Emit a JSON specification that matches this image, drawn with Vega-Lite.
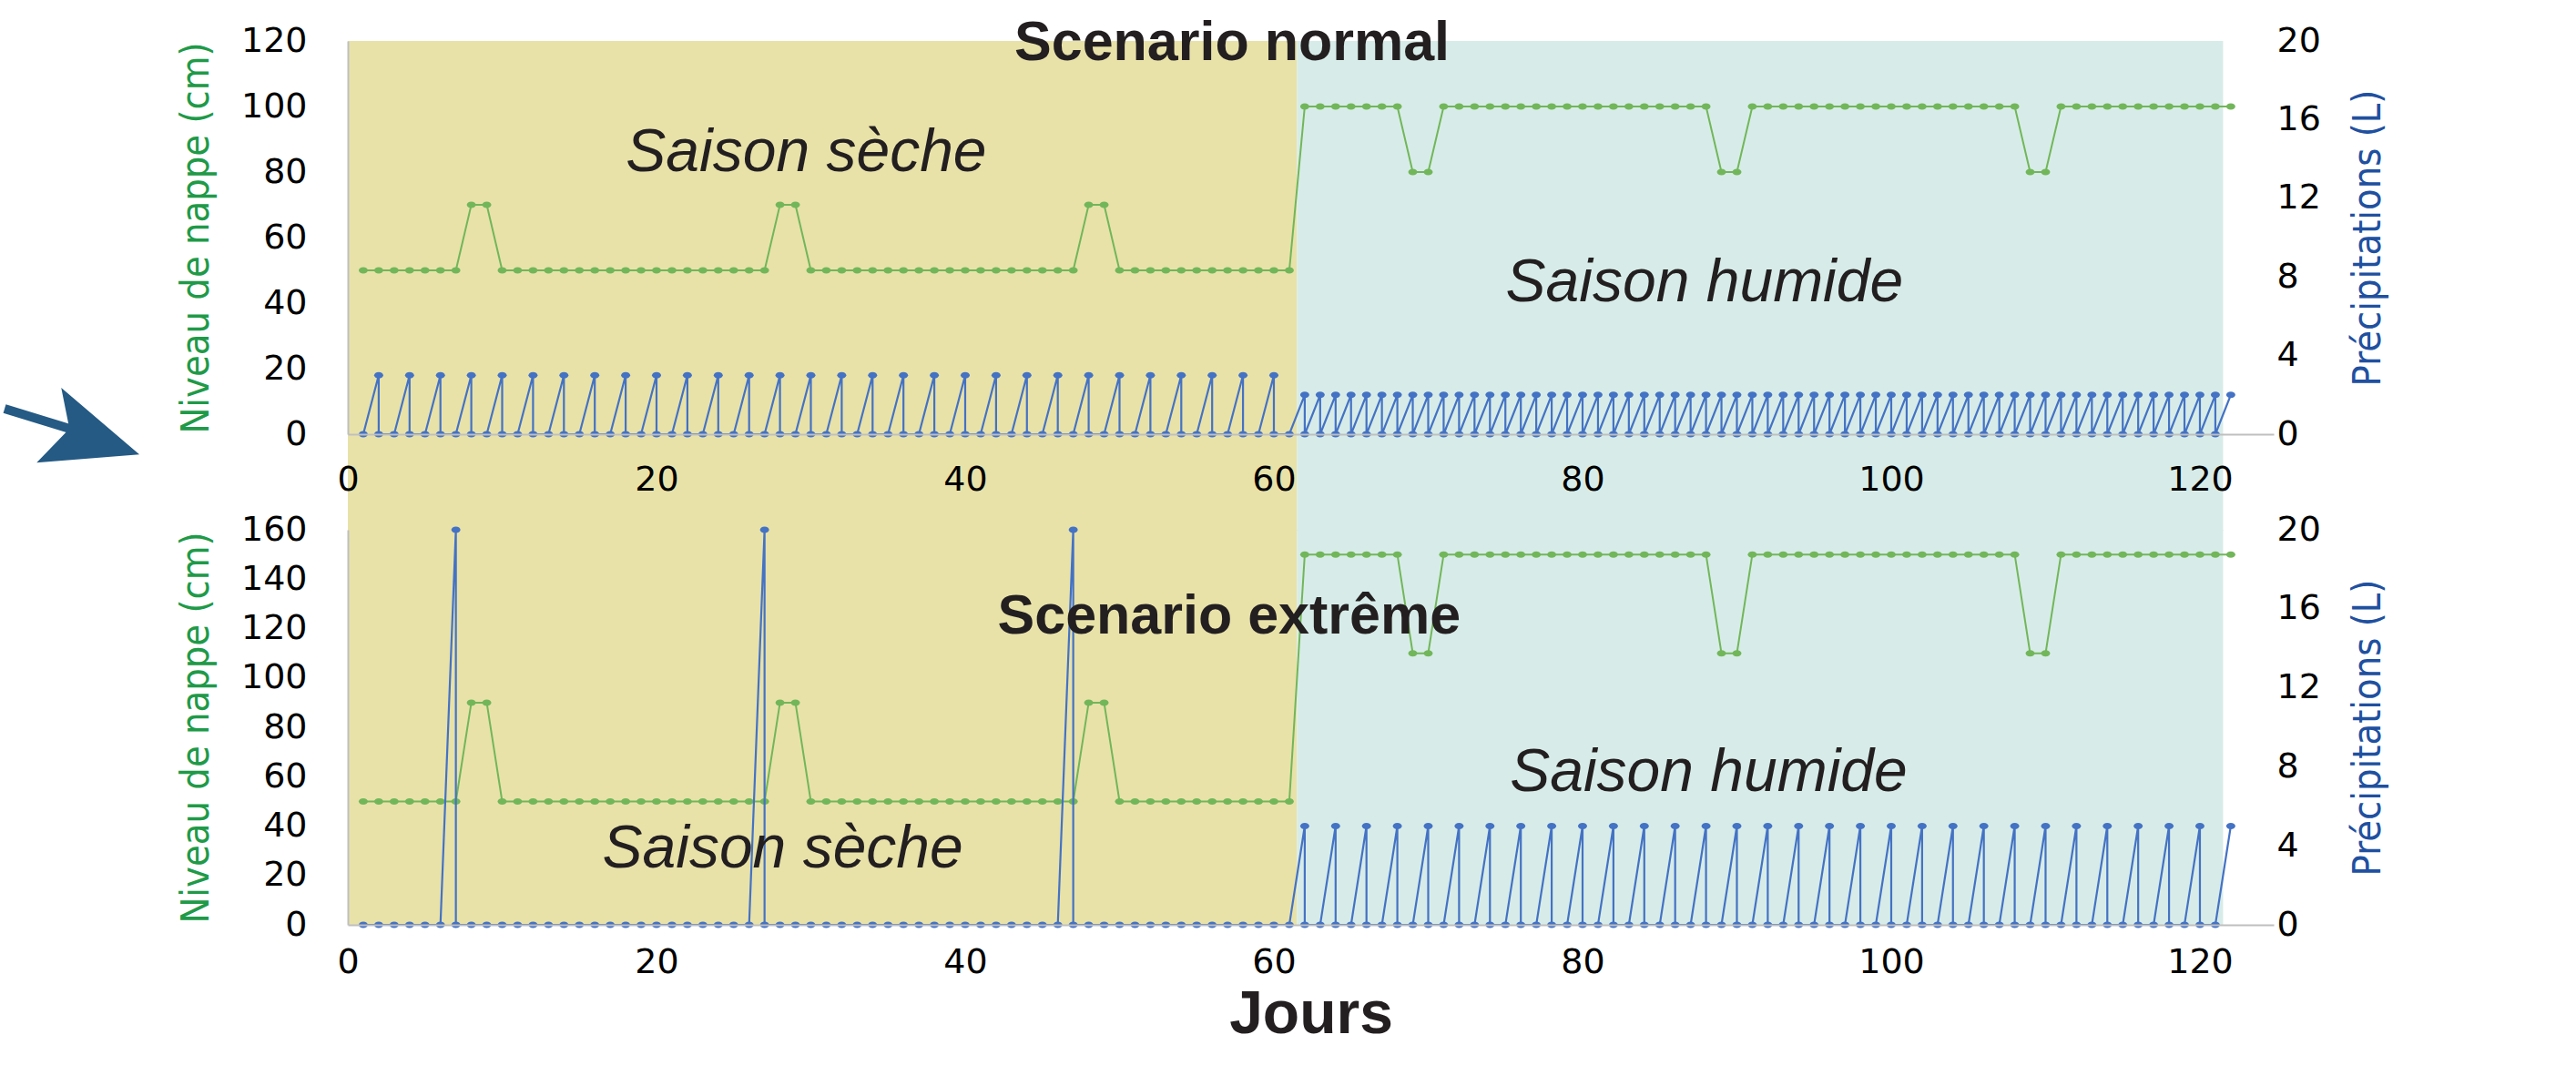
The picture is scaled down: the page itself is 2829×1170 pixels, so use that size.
{
"$schema": "https://vega.github.io/schema/vega-lite/v6.json",
"background": "white",
"padding": {"left": 0, "top": 16, "right": 12, "bottom": 0},
"bounds": "flush",
"spacing": 105,
"config": {
  "view": {"stroke": null},
  "font": "Liberation Sans",
  "axis": {"grid": false, "ticks": false, "labelFont": "DejaVu Sans", "labelFontSize": 38, "labelColor": "#000000", "domainColor": "#bfbfbf", "domainWidth": 2, "labelFlush": false, "labelOverlap": false, "titleFontWeight": "normal"}
},
"datasets": {
  "bgTop": [{"d":0,"d2":61.5,"v":-29.6,"v2":120,"s":"sèche"},{"d":61.5,"d2":121.5,"v":-29.6,"v2":120,"s":"humide"}],
  "bgBot": [{"d":0,"d2":61.5,"v":0,"v2":160,"s":"sèche"},{"d":61.5,"d2":121.5,"v":0,"v2":160,"s":"humide"}],
  "arrow": [{"d":-22.24,"v":7.78,"d2":-17.82,"v2":1.39}],
  "arrowHead": [{"d":-16.87,"v":1.67}],
  "labTop": [{"t":"Scenario normal","d":57.29,"v":114.17,"k":"titre"},{"t":"Saison sèche","d":29.7,"v":80.36,"k":"saison"},{"t":"Saison humide","d":87.9,"v":40.56,"k":"saison"}],
  "labBot": [{"t":"Scenario extrême","d":57.1,"v":117.97,"k":"titre"},{"t":"Saison sèche","d":28.18,"v":23.34,"k":"saison"},{"t":"Saison humide","d":88.17,"v":54.08,"k":"saison"}],
  "nN": [{"d":1,"v":50},{"d":2,"v":50},{"d":3,"v":50},{"d":4,"v":50},{"d":5,"v":50},{"d":6,"v":50},{"d":7,"v":50},{"d":8,"v":70},{"d":9,"v":70},{"d":10,"v":50},{"d":11,"v":50},{"d":12,"v":50},{"d":13,"v":50},{"d":14,"v":50},{"d":15,"v":50},{"d":16,"v":50},{"d":17,"v":50},{"d":18,"v":50},{"d":19,"v":50},{"d":20,"v":50},{"d":21,"v":50},{"d":22,"v":50},{"d":23,"v":50},{"d":24,"v":50},{"d":25,"v":50},{"d":26,"v":50},{"d":27,"v":50},{"d":28,"v":70},{"d":29,"v":70},{"d":30,"v":50},{"d":31,"v":50},{"d":32,"v":50},{"d":33,"v":50},{"d":34,"v":50},{"d":35,"v":50},{"d":36,"v":50},{"d":37,"v":50},{"d":38,"v":50},{"d":39,"v":50},{"d":40,"v":50},{"d":41,"v":50},{"d":42,"v":50},{"d":43,"v":50},{"d":44,"v":50},{"d":45,"v":50},{"d":46,"v":50},{"d":47,"v":50},{"d":48,"v":70},{"d":49,"v":70},{"d":50,"v":50},{"d":51,"v":50},{"d":52,"v":50},{"d":53,"v":50},{"d":54,"v":50},{"d":55,"v":50},{"d":56,"v":50},{"d":57,"v":50},{"d":58,"v":50},{"d":59,"v":50},{"d":60,"v":50},{"d":61,"v":50},{"d":62,"v":100},{"d":63,"v":100},{"d":64,"v":100},{"d":65,"v":100},{"d":66,"v":100},{"d":67,"v":100},{"d":68,"v":100},{"d":69,"v":80},{"d":70,"v":80},{"d":71,"v":100},{"d":72,"v":100},{"d":73,"v":100},{"d":74,"v":100},{"d":75,"v":100},{"d":76,"v":100},{"d":77,"v":100},{"d":78,"v":100},{"d":79,"v":100},{"d":80,"v":100},{"d":81,"v":100},{"d":82,"v":100},{"d":83,"v":100},{"d":84,"v":100},{"d":85,"v":100},{"d":86,"v":100},{"d":87,"v":100},{"d":88,"v":100},{"d":89,"v":80},{"d":90,"v":80},{"d":91,"v":100},{"d":92,"v":100},{"d":93,"v":100},{"d":94,"v":100},{"d":95,"v":100},{"d":96,"v":100},{"d":97,"v":100},{"d":98,"v":100},{"d":99,"v":100},{"d":100,"v":100},{"d":101,"v":100},{"d":102,"v":100},{"d":103,"v":100},{"d":104,"v":100},{"d":105,"v":100},{"d":106,"v":100},{"d":107,"v":100},{"d":108,"v":100},{"d":109,"v":80},{"d":110,"v":80},{"d":111,"v":100},{"d":112,"v":100},{"d":113,"v":100},{"d":114,"v":100},{"d":115,"v":100},{"d":116,"v":100},{"d":117,"v":100},{"d":118,"v":100},{"d":119,"v":100},{"d":120,"v":100},{"d":121,"v":100},{"d":122,"v":100}],
  "xN": [{"d":1,"v":50},{"d":2,"v":50},{"d":3,"v":50},{"d":4,"v":50},{"d":5,"v":50},{"d":6,"v":50},{"d":7,"v":50},{"d":8,"v":90},{"d":9,"v":90},{"d":10,"v":50},{"d":11,"v":50},{"d":12,"v":50},{"d":13,"v":50},{"d":14,"v":50},{"d":15,"v":50},{"d":16,"v":50},{"d":17,"v":50},{"d":18,"v":50},{"d":19,"v":50},{"d":20,"v":50},{"d":21,"v":50},{"d":22,"v":50},{"d":23,"v":50},{"d":24,"v":50},{"d":25,"v":50},{"d":26,"v":50},{"d":27,"v":50},{"d":28,"v":90},{"d":29,"v":90},{"d":30,"v":50},{"d":31,"v":50},{"d":32,"v":50},{"d":33,"v":50},{"d":34,"v":50},{"d":35,"v":50},{"d":36,"v":50},{"d":37,"v":50},{"d":38,"v":50},{"d":39,"v":50},{"d":40,"v":50},{"d":41,"v":50},{"d":42,"v":50},{"d":43,"v":50},{"d":44,"v":50},{"d":45,"v":50},{"d":46,"v":50},{"d":47,"v":50},{"d":48,"v":90},{"d":49,"v":90},{"d":50,"v":50},{"d":51,"v":50},{"d":52,"v":50},{"d":53,"v":50},{"d":54,"v":50},{"d":55,"v":50},{"d":56,"v":50},{"d":57,"v":50},{"d":58,"v":50},{"d":59,"v":50},{"d":60,"v":50},{"d":61,"v":50},{"d":62,"v":150},{"d":63,"v":150},{"d":64,"v":150},{"d":65,"v":150},{"d":66,"v":150},{"d":67,"v":150},{"d":68,"v":150},{"d":69,"v":110},{"d":70,"v":110},{"d":71,"v":150},{"d":72,"v":150},{"d":73,"v":150},{"d":74,"v":150},{"d":75,"v":150},{"d":76,"v":150},{"d":77,"v":150},{"d":78,"v":150},{"d":79,"v":150},{"d":80,"v":150},{"d":81,"v":150},{"d":82,"v":150},{"d":83,"v":150},{"d":84,"v":150},{"d":85,"v":150},{"d":86,"v":150},{"d":87,"v":150},{"d":88,"v":150},{"d":89,"v":110},{"d":90,"v":110},{"d":91,"v":150},{"d":92,"v":150},{"d":93,"v":150},{"d":94,"v":150},{"d":95,"v":150},{"d":96,"v":150},{"d":97,"v":150},{"d":98,"v":150},{"d":99,"v":150},{"d":100,"v":150},{"d":101,"v":150},{"d":102,"v":150},{"d":103,"v":150},{"d":104,"v":150},{"d":105,"v":150},{"d":106,"v":150},{"d":107,"v":150},{"d":108,"v":150},{"d":109,"v":110},{"d":110,"v":110},{"d":111,"v":150},{"d":112,"v":150},{"d":113,"v":150},{"d":114,"v":150},{"d":115,"v":150},{"d":116,"v":150},{"d":117,"v":150},{"d":118,"v":150},{"d":119,"v":150},{"d":120,"v":150},{"d":121,"v":150},{"d":122,"v":150}],
  "nP": [{"d":1,"p":0},{"d":2,"p":3},{"d":2,"p":0},{"d":3,"p":0},{"d":4,"p":3},{"d":4,"p":0},{"d":5,"p":0},{"d":6,"p":3},{"d":6,"p":0},{"d":7,"p":0},{"d":8,"p":3},{"d":8,"p":0},{"d":9,"p":0},{"d":10,"p":3},{"d":10,"p":0},{"d":11,"p":0},{"d":12,"p":3},{"d":12,"p":0},{"d":13,"p":0},{"d":14,"p":3},{"d":14,"p":0},{"d":15,"p":0},{"d":16,"p":3},{"d":16,"p":0},{"d":17,"p":0},{"d":18,"p":3},{"d":18,"p":0},{"d":19,"p":0},{"d":20,"p":3},{"d":20,"p":0},{"d":21,"p":0},{"d":22,"p":3},{"d":22,"p":0},{"d":23,"p":0},{"d":24,"p":3},{"d":24,"p":0},{"d":25,"p":0},{"d":26,"p":3},{"d":26,"p":0},{"d":27,"p":0},{"d":28,"p":3},{"d":28,"p":0},{"d":29,"p":0},{"d":30,"p":3},{"d":30,"p":0},{"d":31,"p":0},{"d":32,"p":3},{"d":32,"p":0},{"d":33,"p":0},{"d":34,"p":3},{"d":34,"p":0},{"d":35,"p":0},{"d":36,"p":3},{"d":36,"p":0},{"d":37,"p":0},{"d":38,"p":3},{"d":38,"p":0},{"d":39,"p":0},{"d":40,"p":3},{"d":40,"p":0},{"d":41,"p":0},{"d":42,"p":3},{"d":42,"p":0},{"d":43,"p":0},{"d":44,"p":3},{"d":44,"p":0},{"d":45,"p":0},{"d":46,"p":3},{"d":46,"p":0},{"d":47,"p":0},{"d":48,"p":3},{"d":48,"p":0},{"d":49,"p":0},{"d":50,"p":3},{"d":50,"p":0},{"d":51,"p":0},{"d":52,"p":3},{"d":52,"p":0},{"d":53,"p":0},{"d":54,"p":3},{"d":54,"p":0},{"d":55,"p":0},{"d":56,"p":3},{"d":56,"p":0},{"d":57,"p":0},{"d":58,"p":3},{"d":58,"p":0},{"d":59,"p":0},{"d":60,"p":3},{"d":60,"p":0},{"d":61,"p":0},{"d":62,"p":2},{"d":62,"p":0},{"d":63,"p":2},{"d":63,"p":0},{"d":64,"p":2},{"d":64,"p":0},{"d":65,"p":2},{"d":65,"p":0},{"d":66,"p":2},{"d":66,"p":0},{"d":67,"p":2},{"d":67,"p":0},{"d":68,"p":2},{"d":68,"p":0},{"d":69,"p":2},{"d":69,"p":0},{"d":70,"p":2},{"d":70,"p":0},{"d":71,"p":2},{"d":71,"p":0},{"d":72,"p":2},{"d":72,"p":0},{"d":73,"p":2},{"d":73,"p":0},{"d":74,"p":2},{"d":74,"p":0},{"d":75,"p":2},{"d":75,"p":0},{"d":76,"p":2},{"d":76,"p":0},{"d":77,"p":2},{"d":77,"p":0},{"d":78,"p":2},{"d":78,"p":0},{"d":79,"p":2},{"d":79,"p":0},{"d":80,"p":2},{"d":80,"p":0},{"d":81,"p":2},{"d":81,"p":0},{"d":82,"p":2},{"d":82,"p":0},{"d":83,"p":2},{"d":83,"p":0},{"d":84,"p":2},{"d":84,"p":0},{"d":85,"p":2},{"d":85,"p":0},{"d":86,"p":2},{"d":86,"p":0},{"d":87,"p":2},{"d":87,"p":0},{"d":88,"p":2},{"d":88,"p":0},{"d":89,"p":2},{"d":89,"p":0},{"d":90,"p":2},{"d":90,"p":0},{"d":91,"p":2},{"d":91,"p":0},{"d":92,"p":2},{"d":92,"p":0},{"d":93,"p":2},{"d":93,"p":0},{"d":94,"p":2},{"d":94,"p":0},{"d":95,"p":2},{"d":95,"p":0},{"d":96,"p":2},{"d":96,"p":0},{"d":97,"p":2},{"d":97,"p":0},{"d":98,"p":2},{"d":98,"p":0},{"d":99,"p":2},{"d":99,"p":0},{"d":100,"p":2},{"d":100,"p":0},{"d":101,"p":2},{"d":101,"p":0},{"d":102,"p":2},{"d":102,"p":0},{"d":103,"p":2},{"d":103,"p":0},{"d":104,"p":2},{"d":104,"p":0},{"d":105,"p":2},{"d":105,"p":0},{"d":106,"p":2},{"d":106,"p":0},{"d":107,"p":2},{"d":107,"p":0},{"d":108,"p":2},{"d":108,"p":0},{"d":109,"p":2},{"d":109,"p":0},{"d":110,"p":2},{"d":110,"p":0},{"d":111,"p":2},{"d":111,"p":0},{"d":112,"p":2},{"d":112,"p":0},{"d":113,"p":2},{"d":113,"p":0},{"d":114,"p":2},{"d":114,"p":0},{"d":115,"p":2},{"d":115,"p":0},{"d":116,"p":2},{"d":116,"p":0},{"d":117,"p":2},{"d":117,"p":0},{"d":118,"p":2},{"d":118,"p":0},{"d":119,"p":2},{"d":119,"p":0},{"d":120,"p":2},{"d":120,"p":0},{"d":121,"p":2},{"d":121,"p":0},{"d":122,"p":2}],
  "xP": [{"d":1,"p":0},{"d":2,"p":0},{"d":3,"p":0},{"d":4,"p":0},{"d":5,"p":0},{"d":6,"p":0},{"d":7,"p":20},{"d":7,"p":0},{"d":8,"p":0},{"d":9,"p":0},{"d":10,"p":0},{"d":11,"p":0},{"d":12,"p":0},{"d":13,"p":0},{"d":14,"p":0},{"d":15,"p":0},{"d":16,"p":0},{"d":17,"p":0},{"d":18,"p":0},{"d":19,"p":0},{"d":20,"p":0},{"d":21,"p":0},{"d":22,"p":0},{"d":23,"p":0},{"d":24,"p":0},{"d":25,"p":0},{"d":26,"p":0},{"d":27,"p":20},{"d":27,"p":0},{"d":28,"p":0},{"d":29,"p":0},{"d":30,"p":0},{"d":31,"p":0},{"d":32,"p":0},{"d":33,"p":0},{"d":34,"p":0},{"d":35,"p":0},{"d":36,"p":0},{"d":37,"p":0},{"d":38,"p":0},{"d":39,"p":0},{"d":40,"p":0},{"d":41,"p":0},{"d":42,"p":0},{"d":43,"p":0},{"d":44,"p":0},{"d":45,"p":0},{"d":46,"p":0},{"d":47,"p":20},{"d":47,"p":0},{"d":48,"p":0},{"d":49,"p":0},{"d":50,"p":0},{"d":51,"p":0},{"d":52,"p":0},{"d":53,"p":0},{"d":54,"p":0},{"d":55,"p":0},{"d":56,"p":0},{"d":57,"p":0},{"d":58,"p":0},{"d":59,"p":0},{"d":60,"p":0},{"d":61,"p":0},{"d":62,"p":5},{"d":62,"p":0},{"d":63,"p":0},{"d":64,"p":5},{"d":64,"p":0},{"d":65,"p":0},{"d":66,"p":5},{"d":66,"p":0},{"d":67,"p":0},{"d":68,"p":5},{"d":68,"p":0},{"d":69,"p":0},{"d":70,"p":5},{"d":70,"p":0},{"d":71,"p":0},{"d":72,"p":5},{"d":72,"p":0},{"d":73,"p":0},{"d":74,"p":5},{"d":74,"p":0},{"d":75,"p":0},{"d":76,"p":5},{"d":76,"p":0},{"d":77,"p":0},{"d":78,"p":5},{"d":78,"p":0},{"d":79,"p":0},{"d":80,"p":5},{"d":80,"p":0},{"d":81,"p":0},{"d":82,"p":5},{"d":82,"p":0},{"d":83,"p":0},{"d":84,"p":5},{"d":84,"p":0},{"d":85,"p":0},{"d":86,"p":5},{"d":86,"p":0},{"d":87,"p":0},{"d":88,"p":5},{"d":88,"p":0},{"d":89,"p":0},{"d":90,"p":5},{"d":90,"p":0},{"d":91,"p":0},{"d":92,"p":5},{"d":92,"p":0},{"d":93,"p":0},{"d":94,"p":5},{"d":94,"p":0},{"d":95,"p":0},{"d":96,"p":5},{"d":96,"p":0},{"d":97,"p":0},{"d":98,"p":5},{"d":98,"p":0},{"d":99,"p":0},{"d":100,"p":5},{"d":100,"p":0},{"d":101,"p":0},{"d":102,"p":5},{"d":102,"p":0},{"d":103,"p":0},{"d":104,"p":5},{"d":104,"p":0},{"d":105,"p":0},{"d":106,"p":5},{"d":106,"p":0},{"d":107,"p":0},{"d":108,"p":5},{"d":108,"p":0},{"d":109,"p":0},{"d":110,"p":5},{"d":110,"p":0},{"d":111,"p":0},{"d":112,"p":5},{"d":112,"p":0},{"d":113,"p":0},{"d":114,"p":5},{"d":114,"p":0},{"d":115,"p":0},{"d":116,"p":5},{"d":116,"p":0},{"d":117,"p":0},{"d":118,"p":5},{"d":118,"p":0},{"d":119,"p":0},{"d":120,"p":5},{"d":120,"p":0},{"d":121,"p":0},{"d":122,"p":5}]
},
"vconcat": [
 {
  "width": 2115, "height": 432,
  "resolve": {"scale": {"y": "independent"}},
  "layer": [
   {"layer": [
     {"data": {"name": "bgTop"}, "mark": {"type": "rect"},
      "encoding": {
        "x": {"field": "d", "type": "quantitative", "scale": {"domain": [0, 124.78], "nice": false, "zero": false}, "axis": {"values": [0,20,40,60,80,100,120], "labelPadding": 31, "title": null, "zindex": 1}},
        "x2": {"field": "d2"},
        "y": {"field": "v", "type": "quantitative", "scale": {"domain": [0, 120], "nice": false, "zero": false}, "axis": {"orient": "left", "values": [0,20,40,60,80,100,120], "labelPadding": 45, "title": "Niveau de nappe (cm)", "titleColor": "#1e9a48", "titleFont": "DejaVu Sans Condensed, Liberation Sans, sans-serif", "titleFontSize": 43, "titlePadding": 36, "titleBaseline": "alphabetic", "zindex": 1}},
        "y2": {"field": "v2"},
        "color": {"field": "s", "type": "nominal", "scale": {"domain": ["sèche", "humide"], "range": ["#e8e2a9", "#d7ece8"]}, "legend": null}
      }},
     {"data": {"name": "arrow"}, "mark": {"type": "rule", "color": "#245a84", "strokeWidth": 10},
      "encoding": {
        "x": {"field": "d", "type": "quantitative", "scale": {"domain": [0, 124.78], "nice": false, "zero": false}, "axis": {"values": [0,20,40,60,80,100,120], "labelPadding": 31, "title": null, "zindex": 1}},
        "x2": {"field": "d2"},
        "y": {"field": "v", "type": "quantitative", "scale": {"domain": [0, 120], "nice": false, "zero": false}, "axis": {"orient": "left", "values": [0,20,40,60,80,100,120], "labelPadding": 45, "title": "Niveau de nappe (cm)", "titleColor": "#1e9a48", "titleFont": "DejaVu Sans Condensed, Liberation Sans, sans-serif", "titleFontSize": 43, "titlePadding": 36, "titleBaseline": "alphabetic", "zindex": 1}},
        "y2": {"field": "v2"}
      }},
     {"data": {"name": "arrowHead"}, "mark": {"type": "point", "shape": "M0.95,0.47L-0.48,-0.75L-0.33,0L-0.93,0.62Z", "size": 14400, "filled": true, "color": "#245a84", "opacity": 1, "strokeWidth": 0},
      "encoding": {
        "x": {"field": "d", "type": "quantitative", "scale": {"domain": [0, 124.78], "nice": false, "zero": false}, "axis": {"values": [0,20,40,60,80,100,120], "labelPadding": 31, "title": null, "zindex": 1}},
        "y": {"field": "v", "type": "quantitative", "scale": {"domain": [0, 120], "nice": false, "zero": false}, "axis": {"orient": "left", "values": [0,20,40,60,80,100,120], "labelPadding": 45, "title": "Niveau de nappe (cm)", "titleColor": "#1e9a48", "titleFont": "DejaVu Sans Condensed, Liberation Sans, sans-serif", "titleFontSize": 43, "titlePadding": 36, "titleBaseline": "alphabetic", "zindex": 1}}
      }},
     {"data": {"name": "nN"}, "mark": {"type": "line", "color": "#72b65a", "strokeWidth": 2},
      "encoding": {
        "x": {"field": "d", "type": "quantitative", "scale": {"domain": [0, 124.78], "nice": false, "zero": false}, "axis": {"values": [0,20,40,60,80,100,120], "labelPadding": 31, "title": null, "zindex": 1}},
        "y": {"field": "v", "type": "quantitative", "scale": {"domain": [0, 120], "nice": false, "zero": false}, "axis": {"orient": "left", "values": [0,20,40,60,80,100,120], "labelPadding": 45, "title": "Niveau de nappe (cm)", "titleColor": "#1e9a48", "titleFont": "DejaVu Sans Condensed, Liberation Sans, sans-serif", "titleFontSize": 43, "titlePadding": 36, "titleBaseline": "alphabetic", "zindex": 1}}
      }},
     {"data": {"name": "nN"}, "mark": {"type": "point", "shape": "M-1,0C-1,-0.39,-0.55,-0.7,0,-0.7C0.55,-0.7,1,-0.39,1,0C1,0.39,0.55,0.7,0,0.7C-0.55,0.7,-1,0.39,-1,0Z", "size": 100, "filled": true, "color": "#72b65a", "opacity": 1, "strokeWidth": 0},
      "encoding": {
        "x": {"field": "d", "type": "quantitative", "scale": {"domain": [0, 124.78], "nice": false, "zero": false}, "axis": {"values": [0,20,40,60,80,100,120], "labelPadding": 31, "title": null, "zindex": 1}},
        "y": {"field": "v", "type": "quantitative", "scale": {"domain": [0, 120], "nice": false, "zero": false}, "axis": {"orient": "left", "values": [0,20,40,60,80,100,120], "labelPadding": 45, "title": "Niveau de nappe (cm)", "titleColor": "#1e9a48", "titleFont": "DejaVu Sans Condensed, Liberation Sans, sans-serif", "titleFontSize": 43, "titlePadding": 36, "titleBaseline": "alphabetic", "zindex": 1}}
      }}
   ]},
   {"layer": [
     {"data": {"name": "nP"}, "mark": {"type": "line", "color": "#4472c4", "strokeWidth": 2.2},
      "encoding": {
        "x": {"field": "d", "type": "quantitative", "scale": {"domain": [0, 124.78], "nice": false, "zero": false}, "axis": {"values": [0,20,40,60,80,100,120], "labelPadding": 31, "title": null, "zindex": 1}},
        "y": {"field": "p", "type": "quantitative", "scale": {"domain": [0, 20], "nice": false, "zero": false}, "axis": {"orient": "right", "values": [0,4,8,12,16,20], "labelPadding": 3, "domain": false, "title": "Précipitations (L)", "titleColor": "#2050a0", "titleFont": "DejaVu Sans Condensed, Liberation Sans, sans-serif", "titleFontSize": 43, "titleAngle": 270, "titlePadding": 31, "titleBaseline": "top", "zindex": 1}},
        "order": {"value": null}
      }},
     {"data": {"name": "nP"}, "mark": {"type": "point", "shape": "M-1,0C-1,-0.39,-0.55,-0.7,0,-0.7C0.55,-0.7,1,-0.39,1,0C1,0.39,0.55,0.7,0,0.7C-0.55,0.7,-1,0.39,-1,0Z", "size": 100, "filled": true, "color": "#4472c4", "opacity": 1, "strokeWidth": 0},
      "encoding": {
        "x": {"field": "d", "type": "quantitative", "scale": {"domain": [0, 124.78], "nice": false, "zero": false}, "axis": {"values": [0,20,40,60,80,100,120], "labelPadding": 31, "title": null, "zindex": 1}},
        "y": {"field": "p", "type": "quantitative", "scale": {"domain": [0, 20], "nice": false, "zero": false}, "axis": {"orient": "right", "values": [0,4,8,12,16,20], "labelPadding": 3, "domain": false, "title": "Précipitations (L)", "titleColor": "#2050a0", "titleFont": "DejaVu Sans Condensed, Liberation Sans, sans-serif", "titleFontSize": 43, "titleAngle": 270, "titlePadding": 31, "titleBaseline": "top", "zindex": 1}}
      }}
   ]},
   {"layer": [
     {"data": {"name": "labTop"}, "transform": [{"filter": "datum.k == 'titre'"}],
      "mark": {"type": "text", "font": "Liberation Sans", "fontWeight": "bold", "fontSize": 61, "align": "center", "baseline": "alphabetic", "color": "#231f20"},
      "encoding": {
        "x": {"field": "d", "type": "quantitative", "scale": {"domain": [0, 124.78], "nice": false, "zero": false}, "axis": {"values": [0,20,40,60,80,100,120], "labelPadding": 31, "title": null, "zindex": 1}},
        "y": {"field": "v", "type": "quantitative", "scale": {"domain": [0, 120], "nice": false, "zero": false}, "axis": null},
        "text": {"field": "t"}
      }},
     {"data": {"name": "labTop"}, "transform": [{"filter": "datum.k == 'saison'"}],
      "mark": {"type": "text", "font": "Liberation Sans", "fontStyle": "italic", "fontSize": 66, "align": "center", "baseline": "alphabetic", "color": "#231f20"},
      "encoding": {
        "x": {"field": "d", "type": "quantitative", "scale": {"domain": [0, 124.78], "nice": false, "zero": false}, "axis": {"values": [0,20,40,60,80,100,120], "labelPadding": 31, "title": null, "zindex": 1}},
        "y": {"field": "v", "type": "quantitative", "scale": {"domain": [0, 120], "nice": false, "zero": false}, "axis": null},
        "text": {"field": "t"}
      }}
   ]}
  ]
 },
 {
  "width": 2115, "height": 434,
  "resolve": {"scale": {"y": "independent"}},
  "layer": [
   {"layer": [
     {"data": {"name": "bgBot"}, "mark": {"type": "rect"},
      "encoding": {
        "x": {"field": "d", "type": "quantitative", "scale": {"domain": [0, 124.78], "nice": false, "zero": false}, "axis": {"values": [0,20,40,60,80,100,120], "labelPadding": 22, "title": "Jours", "titleFont": "Liberation Sans", "titleFontWeight": "bold", "titleFontSize": 66, "titleColor": "#231f20", "titlePadding": 6, "zindex": 1}},
        "x2": {"field": "d2"},
        "y": {"field": "v", "type": "quantitative", "scale": {"domain": [0, 160], "nice": false, "zero": false}, "axis": {"orient": "left", "values": [0,20,40,60,80,100,120,140,160], "labelPadding": 45, "title": "Niveau de nappe (cm)", "titleColor": "#1e9a48", "titleFont": "DejaVu Sans Condensed, Liberation Sans, sans-serif", "titleFontSize": 43, "titlePadding": 36, "titleBaseline": "alphabetic", "zindex": 1}},
        "y2": {"field": "v2"},
        "color": {"field": "s", "type": "nominal", "scale": {"domain": ["sèche", "humide"], "range": ["#e8e2a9", "#d7ece8"]}, "legend": null}
      }},
     {"data": {"name": "xN"}, "mark": {"type": "line", "color": "#72b65a", "strokeWidth": 2},
      "encoding": {
        "x": {"field": "d", "type": "quantitative", "scale": {"domain": [0, 124.78], "nice": false, "zero": false}, "axis": {"values": [0,20,40,60,80,100,120], "labelPadding": 22, "title": "Jours", "titleFont": "Liberation Sans", "titleFontWeight": "bold", "titleFontSize": 66, "titleColor": "#231f20", "titlePadding": 6, "zindex": 1}},
        "y": {"field": "v", "type": "quantitative", "scale": {"domain": [0, 160], "nice": false, "zero": false}, "axis": {"orient": "left", "values": [0,20,40,60,80,100,120,140,160], "labelPadding": 45, "title": "Niveau de nappe (cm)", "titleColor": "#1e9a48", "titleFont": "DejaVu Sans Condensed, Liberation Sans, sans-serif", "titleFontSize": 43, "titlePadding": 36, "titleBaseline": "alphabetic", "zindex": 1}}
      }},
     {"data": {"name": "xN"}, "mark": {"type": "point", "shape": "M-1,0C-1,-0.39,-0.55,-0.7,0,-0.7C0.55,-0.7,1,-0.39,1,0C1,0.39,0.55,0.7,0,0.7C-0.55,0.7,-1,0.39,-1,0Z", "size": 100, "filled": true, "color": "#72b65a", "opacity": 1, "strokeWidth": 0},
      "encoding": {
        "x": {"field": "d", "type": "quantitative", "scale": {"domain": [0, 124.78], "nice": false, "zero": false}, "axis": {"values": [0,20,40,60,80,100,120], "labelPadding": 22, "title": "Jours", "titleFont": "Liberation Sans", "titleFontWeight": "bold", "titleFontSize": 66, "titleColor": "#231f20", "titlePadding": 6, "zindex": 1}},
        "y": {"field": "v", "type": "quantitative", "scale": {"domain": [0, 160], "nice": false, "zero": false}, "axis": {"orient": "left", "values": [0,20,40,60,80,100,120,140,160], "labelPadding": 45, "title": "Niveau de nappe (cm)", "titleColor": "#1e9a48", "titleFont": "DejaVu Sans Condensed, Liberation Sans, sans-serif", "titleFontSize": 43, "titlePadding": 36, "titleBaseline": "alphabetic", "zindex": 1}}
      }}
   ]},
   {"layer": [
     {"data": {"name": "xP"}, "mark": {"type": "line", "color": "#4472c4", "strokeWidth": 2.2},
      "encoding": {
        "x": {"field": "d", "type": "quantitative", "scale": {"domain": [0, 124.78], "nice": false, "zero": false}, "axis": {"values": [0,20,40,60,80,100,120], "labelPadding": 22, "title": "Jours", "titleFont": "Liberation Sans", "titleFontWeight": "bold", "titleFontSize": 66, "titleColor": "#231f20", "titlePadding": 6, "zindex": 1}},
        "y": {"field": "p", "type": "quantitative", "scale": {"domain": [0, 20], "nice": false, "zero": false}, "axis": {"orient": "right", "values": [0,4,8,12,16,20], "labelPadding": 3, "domain": false, "title": "Précipitations (L)", "titleColor": "#2050a0", "titleFont": "DejaVu Sans Condensed, Liberation Sans, sans-serif", "titleFontSize": 43, "titleAngle": 270, "titlePadding": 31, "titleBaseline": "top", "zindex": 1}},
        "order": {"value": null}
      }},
     {"data": {"name": "xP"}, "mark": {"type": "point", "shape": "M-1,0C-1,-0.39,-0.55,-0.7,0,-0.7C0.55,-0.7,1,-0.39,1,0C1,0.39,0.55,0.7,0,0.7C-0.55,0.7,-1,0.39,-1,0Z", "size": 100, "filled": true, "color": "#4472c4", "opacity": 1, "strokeWidth": 0},
      "encoding": {
        "x": {"field": "d", "type": "quantitative", "scale": {"domain": [0, 124.78], "nice": false, "zero": false}, "axis": {"values": [0,20,40,60,80,100,120], "labelPadding": 22, "title": "Jours", "titleFont": "Liberation Sans", "titleFontWeight": "bold", "titleFontSize": 66, "titleColor": "#231f20", "titlePadding": 6, "zindex": 1}},
        "y": {"field": "p", "type": "quantitative", "scale": {"domain": [0, 20], "nice": false, "zero": false}, "axis": {"orient": "right", "values": [0,4,8,12,16,20], "labelPadding": 3, "domain": false, "title": "Précipitations (L)", "titleColor": "#2050a0", "titleFont": "DejaVu Sans Condensed, Liberation Sans, sans-serif", "titleFontSize": 43, "titleAngle": 270, "titlePadding": 31, "titleBaseline": "top", "zindex": 1}}
      }}
   ]},
   {"layer": [
     {"data": {"name": "labBot"}, "transform": [{"filter": "datum.k == 'titre'"}],
      "mark": {"type": "text", "font": "Liberation Sans", "fontWeight": "bold", "fontSize": 61, "align": "center", "baseline": "alphabetic", "color": "#231f20"},
      "encoding": {
        "x": {"field": "d", "type": "quantitative", "scale": {"domain": [0, 124.78], "nice": false, "zero": false}, "axis": {"values": [0,20,40,60,80,100,120], "labelPadding": 22, "title": "Jours", "titleFont": "Liberation Sans", "titleFontWeight": "bold", "titleFontSize": 66, "titleColor": "#231f20", "titlePadding": 6, "zindex": 1}},
        "y": {"field": "v", "type": "quantitative", "scale": {"domain": [0, 160], "nice": false, "zero": false}, "axis": null},
        "text": {"field": "t"}
      }},
     {"data": {"name": "labBot"}, "transform": [{"filter": "datum.k == 'saison'"}],
      "mark": {"type": "text", "font": "Liberation Sans", "fontStyle": "italic", "fontSize": 66, "align": "center", "baseline": "alphabetic", "color": "#231f20"},
      "encoding": {
        "x": {"field": "d", "type": "quantitative", "scale": {"domain": [0, 124.78], "nice": false, "zero": false}, "axis": {"values": [0,20,40,60,80,100,120], "labelPadding": 22, "title": "Jours", "titleFont": "Liberation Sans", "titleFontWeight": "bold", "titleFontSize": 66, "titleColor": "#231f20", "titlePadding": 6, "zindex": 1}},
        "y": {"field": "v", "type": "quantitative", "scale": {"domain": [0, 160], "nice": false, "zero": false}, "axis": null},
        "text": {"field": "t"}
      }}
   ]}
  ]
 }
]
}
